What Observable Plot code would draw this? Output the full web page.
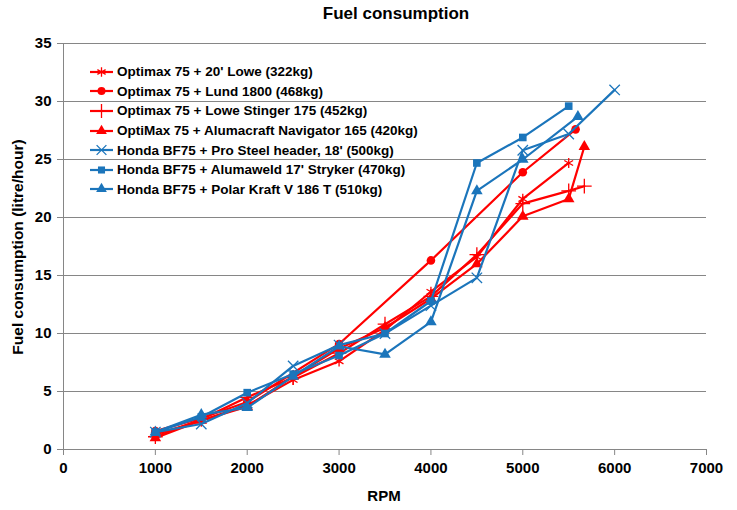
<!DOCTYPE html>
<html><head><meta charset="utf-8">
<script src="https://cdn.jsdelivr.net/npm/d3@7"></script>
<script src="https://cdn.jsdelivr.net/npm/@observablehq/plot@0.6"></script>
<style>
body{margin:0;background:#fff;}
#wrap{position:relative;width:737px;height:510px;font-family:"Liberation Sans",Arial,sans-serif;font-weight:bold;color:#000;}
#title{position:absolute;top:4px;left:396px;transform:translateX(-50%);font-size:17px;white-space:nowrap;}
#xlabel{position:absolute;top:487px;left:384px;transform:translateX(-50%);font-size:15px;}
#ylabel{position:absolute;left:18px;top:247px;transform:translate(-50%,-50%) rotate(-90deg);font-size:15.5px;white-space:nowrap;}
#legend{position:absolute;left:88px;top:62px;font-size:13.5px;}
.row{display:flex;align-items:center;height:19.6px;white-space:nowrap;}
.row svg{margin-right:2px;}
</style></head>
<body><div id="wrap"><div id="chart"></div>
<div id="title">Fuel consumption</div>
<div id="xlabel">RPM</div>
<div id="ylabel">Fuel consumption (litre/hour)</div>
<div id="legend"></div></div>
<script>
// Data
const seriesNames = [
  "Optimax 75 + 20' Lowe (322kg)",
  "Optimax 75 + Lund 1800 (468kg)",
  "Optimax 75 + Lowe Stinger 175 (452kg)",
  "OptiMax 75 + Alumacraft Navigator 165 (420kg)",
  "Honda BF75 + Pro Steel header, 18' (500kg)",
  "Honda BF75 + Alumaweld 17' Stryker (470kg)",
  "Honda BF75 + Polar Kraft V 186 T (510kg)"
];
const seriesColors = ["#FF0000","#FF0000","#FF0000","#FF0000","#1B75BB","#1B75BB","#1B75BB"];
const seriesSymbols = ["asterisk","circle","plus","triangle","times","square","triangle"];

const rpmLowe20 = [1000,1500,2000,2500,3000,3500,4000,4500,5000,5500];
const fuelLowe20 = [1.3,2.5,3.8,6.0,7.6,10.3,13.6,16.6,21.6,24.7];
const rpmLund = [1000,1500,2000,3000,4000,5000,5575];
const fuelLund = [1.6,2.7,4.1,9.1,16.3,23.9,27.6];
const rpmStinger = [1000,1500,2000,2500,3000,3500,4000,4500,5000,5500,5670];
const fuelStinger = [1.1,2.6,4.5,6.2,8.3,10.8,13.2,16.8,21.2,22.3,22.7];
const rpmNavigator = [1000,1500,2000,2500,3000,3500,4000,4500,5000,5500,5670];
const fuelNavigator = [1.0,2.5,3.7,6.3,8.7,10.5,13.0,16.0,20.1,21.6,26.1];
const rpmProSteel = [1000,1500,2000,2500,3000,3500,4000,4500,5000,5500,6000];
const fuelProSteel = [1.5,2.2,4.0,7.2,9.0,10.0,12.4,14.8,25.8,27.2,31.0];
const rpmStryker = [1000,1500,2000,2500,3000,3500,4000,4500,5000,5500];
const fuelStryker = [1.5,2.8,4.9,6.5,8.1,10.0,12.8,24.7,26.9,29.6];
const rpmPolar = [1000,1500,2000,2500,3000,3500,4000,4500,5000,5600];
const fuelPolar = [1.5,3.0,3.6,6.3,8.9,8.2,11.0,22.3,25.0,28.7];

const xTicks = [0,1000,2000,3000,4000,5000,6000,7000];
const yTicks = [0,5,10,15,20,25,30,35];

const rpmAll = [rpmLowe20,rpmLund,rpmStinger,rpmNavigator,rpmProSteel,rpmStryker,rpmPolar];
const fuelAll = [fuelLowe20,fuelLund,fuelStinger,fuelNavigator,fuelProSteel,fuelStryker,fuelPolar];

const strokeSymbols = new Set(["asterisk","plus","times"]);
const grid = "#868686";

const marks = [
  Plot.gridY(yTicks, {stroke: grid, strokeOpacity: 1}),
  Plot.ruleX([0], {stroke: grid}),
  Plot.axisY(yTicks, {tickSize: 6, tickPadding: 6, stroke: grid, fill: "#000", label: null, fontSize: 15, fontWeight: "bold", tickFormat: d => String(d)}),
  Plot.axisX(xTicks, {tickSize: 6, tickPadding: 7, stroke: grid, fill: "#000", label: null, fontSize: 15, fontWeight: "bold", tickFormat: d => String(d)})
];
seriesNames.forEach((name, i) => {
  const data = rpmAll[i].map((r, j) => ({rpm: r, fuel: fuelAll[i][j]}));
  const c = seriesColors[i], s = seriesSymbols[i];
  marks.push(Plot.line(data, {x: "rpm", y: "fuel", stroke: c, strokeWidth: 2.2}));
  if (strokeSymbols.has(s)) {
    marks.push(Plot.dot(data, {x: "rpm", y: "fuel", symbol: () => s, stroke: c, strokeWidth: 1.3, r: 4.8}));
  } else {
    marks.push(Plot.dot(data, {x: "rpm", y: "fuel", symbol: () => s, fill: c, stroke: "none", r: 4.3}));
  }
});

const chart = Plot.plot({
  width: 737, height: 510,
  marginLeft: 63, marginRight: 31, marginTop: 43, marginBottom: 61,
  style: {fontFamily: '"Liberation Sans", Arial, sans-serif', background: "#fff"},
  x: {domain: [0,7000], axis: null},
  y: {domain: [0,35], axis: null},
  symbol: {type: "identity"},
  marks
});
document.getElementById("chart").appendChild(chart);

// Legend
const leg = d3.select("#legend");
const symMap = {asterisk: d3.symbolAsterisk, circle: d3.symbolCircle, plus: d3.symbolPlus, triangle: d3.symbolTriangle, times: d3.symbolTimes, square: d3.symbolSquare};
seriesNames.forEach((name, i) => {
  const row = leg.append("div").attr("class","row");
  const svg = row.append("svg").attr("width", 27).attr("height", 14);
  svg.append("line").attr("x1",2).attr("x2",25).attr("y1",7).attr("y2",7).attr("stroke",seriesColors[i]).attr("stroke-width",2.2);
  const s = seriesSymbols[i];
  const p = svg.append("path").attr("transform","translate(13.5,7)")
    .attr("d", d3.symbol(symMap[s], strokeSymbols.has(s) ? 64 : 50)());
  if (strokeSymbols.has(s)) p.attr("fill","none").attr("stroke",seriesColors[i]).attr("stroke-width",1.3);
  else p.attr("fill",seriesColors[i]);
  row.append("span").text(name);
});
</script></body></html>
